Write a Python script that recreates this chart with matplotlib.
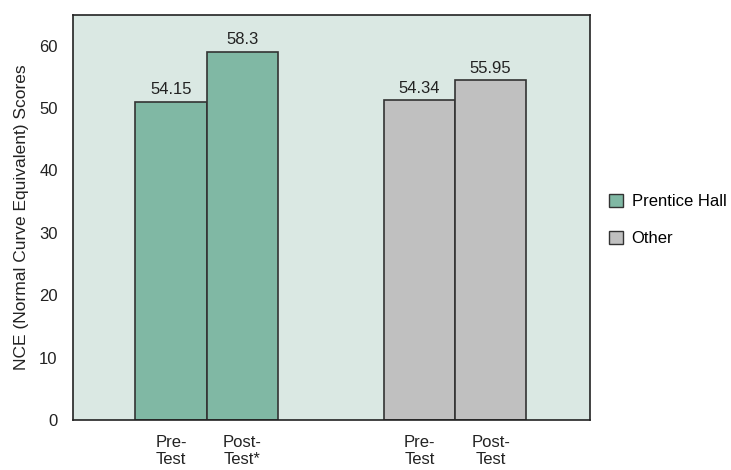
import matplotlib.pyplot as plt

plt.rcParams['font.family'] = ['Liberation Sans', 'DejaVu Sans']

groups = ['Prentice Hall', 'Other']
tick_labels = ['Pre-\nTest', 'Post-\nTest*', 'Pre-\nTest', 'Post-\nTest']
# bar heights as drawn in the original chart
heights = [51.0, 59.0, 51.3, 54.5]
value_labels = ['54.15', '58.3', '54.34', '55.95']
positions = [0, 1, 3.5, 4.5]
colors = ['#80b8a4', '#80b8a4', '#c0c0c0', '#c0c0c0']

fig = plt.figure(figsize=(7.31, 4.70), dpi=100)
ax = fig.add_axes([73 / 731, 1 - 420 / 470, 517 / 731, 405 / 470])
ax.set_facecolor('#dae8e3')

bars = ax.bar(positions, heights, width=1.0, color=colors, edgecolor='#333333', linewidth=1.2)
for bar, lab in zip(bars, value_labels):
    ax.text(bar.get_x() + bar.get_width() / 2, bar.get_height() + 0.7, lab,
            ha='center', va='bottom', fontsize=12, color='#222222')

ax.set_xlim(-1.38, 5.9)
ax.set_ylim(0, 64.9)
ax.set_yticks(range(0, 70, 10))
ax.set_xticks(positions)
ax.set_xticklabels(tick_labels, fontsize=12, linespacing=1.15)
ax.tick_params(axis='both', length=0, labelsize=12, colors='#222222')
ax.tick_params(axis='y', pad=11)
ax.tick_params(axis='x', pad=11)
for s in ax.spines.values():
    s.set_color('#222222')
    s.set_linewidth(1.2)

ax.set_ylabel('NCE (Normal Curve Equivalent) Scores', fontsize=12.5, color='#222222', labelpad=7)

handles = [plt.Rectangle((0, 0), 1, 1, facecolor='#80b8a4', edgecolor='#333333'),
           plt.Rectangle((0, 0), 1, 1, facecolor='#c0c0c0', edgecolor='#333333')]
fig.legend(handles, groups, loc='center left', bbox_to_anchor=(594 / 731, 1 - 220 / 470),
           frameon=False, fontsize=12, handlelength=0.85, handleheight=0.85,
           handletextpad=0.5, labelspacing=1.3)

fig.savefig('out.png', dpi=100)
